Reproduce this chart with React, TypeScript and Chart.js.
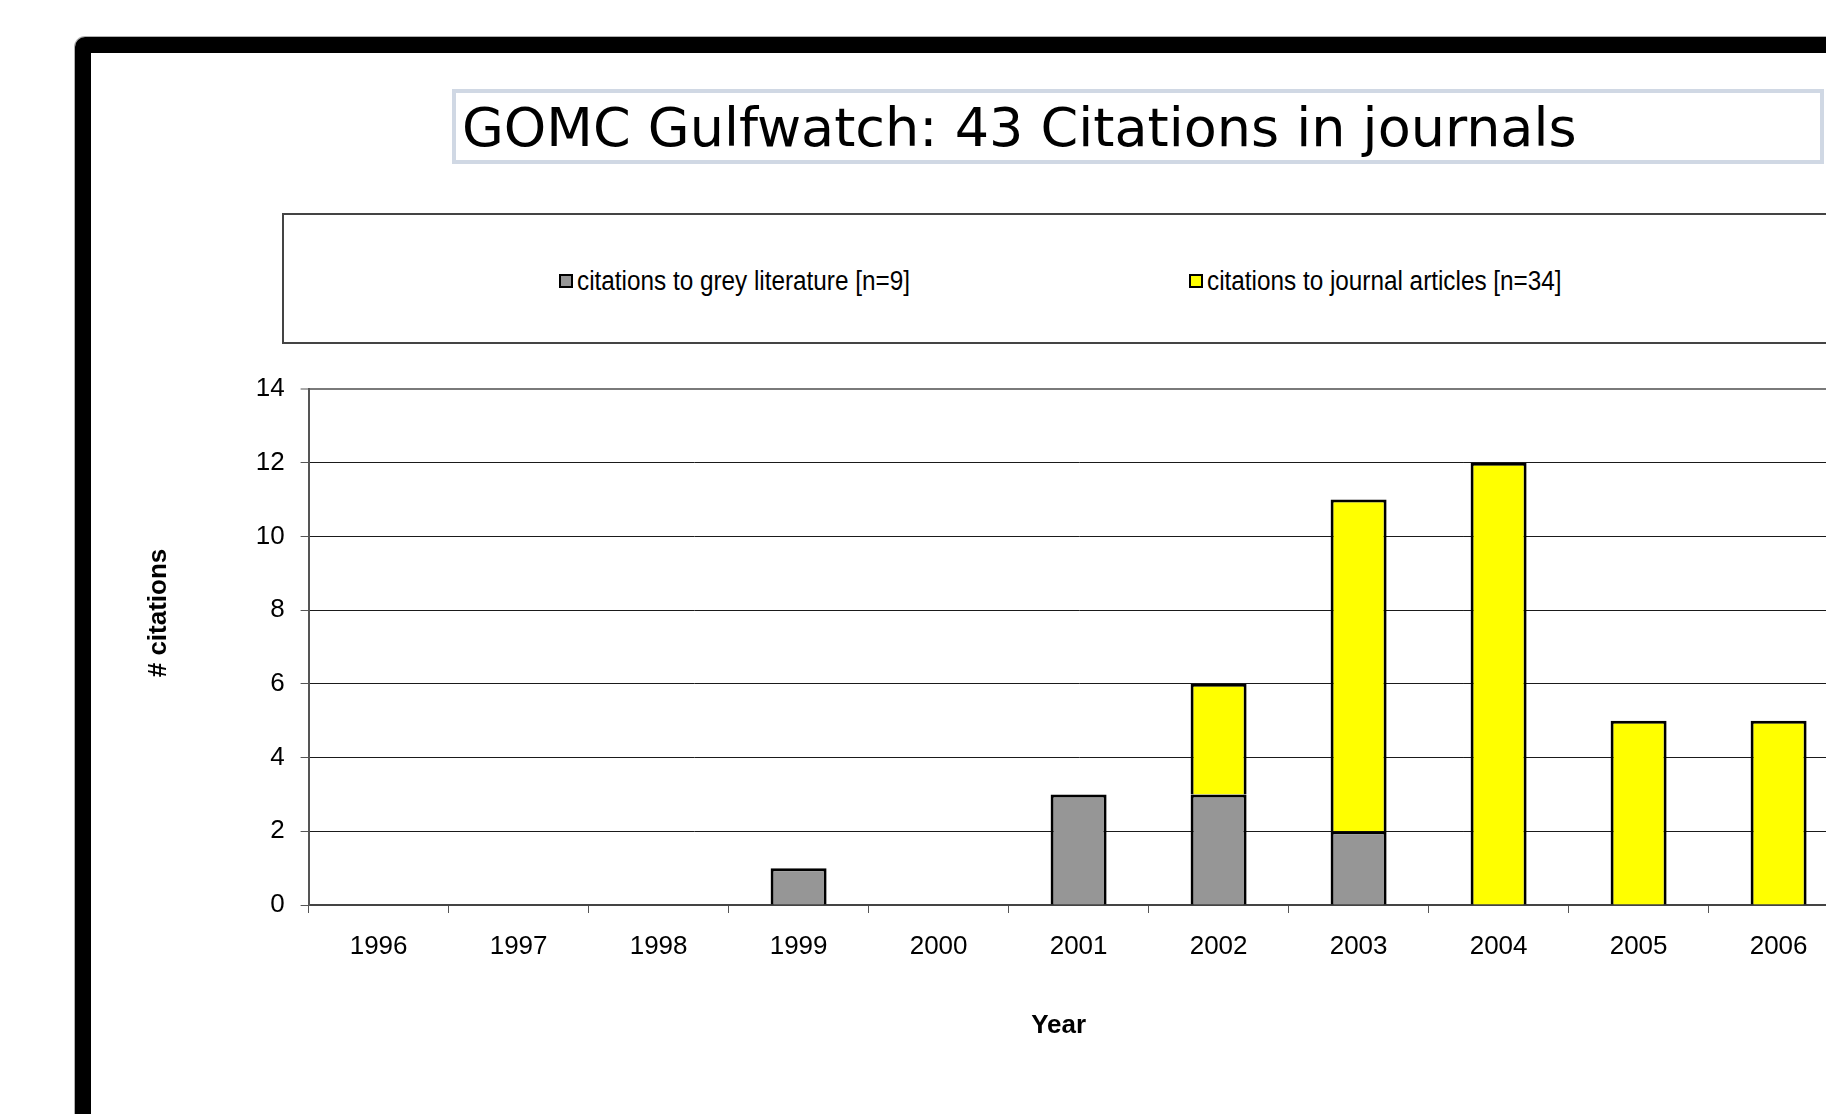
import React, { useEffect, useRef } from "react";
import { Chart, registerables } from "chart.js";

Chart.register(...registerables);

// ---- data ----
const categories = ["1996", "1997", "1998", "1999", "2000", "2001", "2002", "2003", "2004", "2005", "2006"];
const greyLiterature = [0, 0, 0, 1, 0, 3, 3, 2, 0, 0, 0];
const journalArticles = [0, 0, 0, 0, 0, 0, 3, 9, 12, 5, 5];
const seriesLabels = ["citations to grey literature [n=9]", "citations to journal articles [n=34]"];
const seriesColors = ["#969696", "#ffff00"];
const yTicks = [0, 2, 4, 6, 8, 10, 12, 14];
const chartTitle = "GOMC Gulfwatch: 43 Citations in journals";
const xAxisTitle = "Year";
const yAxisTitle = "# citations";

const SANS = "'Liberation Sans', Arial, Helvetica, sans-serif";

const axisTitlePlugin = {
  id: "axisTitlesCustom",
  afterDraw(chart: any) {
    const { ctx, chartArea } = chart;
    ctx.save();
    ctx.fillStyle = "#000";
    ctx.textAlign = "center";
    ctx.textBaseline = "alphabetic";
    ctx.font = `bold 26px ${SANS}`;
    ctx.fillText(xAxisTitle, chartArea.left + 750, chartArea.bottom + 128);
    ctx.translate(chartArea.left - 143, chartArea.top + 224);
    ctx.rotate(-Math.PI / 2);
    ctx.font = `bold 26px ${SANS}`;
    ctx.fillText(yAxisTitle, 0, 0);
    ctx.restore();
  },
};

export default function App() {
  const canvasRef = useRef<HTMLCanvasElement | null>(null);

  useEffect(() => {
    const canvas = canvasRef.current;
    if (!canvas) return;
    const yMax = yTicks[yTicks.length - 1];
    const chart = new Chart(canvas, {
      type: "bar",
      data: {
        labels: categories,
        datasets: [
          {
            label: seriesLabels[0],
            data: greyLiterature,
            backgroundColor: seriesColors[0],
            borderColor: "#000",
            borderWidth: 3,
          },
          {
            label: seriesLabels[1],
            data: journalArticles,
            backgroundColor: seriesColors[1],
            borderColor: "#000",
            borderWidth: 3,
          },
        ],
      },
      options: {
        responsive: false,
        animation: false,
        events: [],
        datasets: { bar: { barPercentage: 0.4, categoryPercentage: 1 } },
        layout: { padding: { left: 248.6, right: 51.4, top: 389, bottom: 149 } },
        plugins: {
          legend: { display: false },
          title: { display: false },
          tooltip: { enabled: false },
        },
        scales: {
          x: {
            stacked: true,
            afterFit: (scale: any) => {
              scale.height = 60;
            },
            grid: {
              display: true,
              drawOnChartArea: false,
              drawTicks: true,
              tickLength: 8,
              tickColor: "#555",
              offset: true,
            },
            border: { display: true, color: "#444", width: 2 },
            ticks: { color: "#000", font: { family: SANS, size: 26 }, padding: 18, maxRotation: 0, autoSkip: false },
          },
          y: {
            stacked: true,
            min: 0,
            max: yMax,
            afterFit: (scale: any) => {
              scale.width = 60;
            },
            afterBuildTicks: (scale: any) => {
              scale.ticks = yTicks.map((v) => ({ value: v }));
            },
            grid: {
              color: (c: any) => (c.tick && c.tick.value === yMax ? "#7a7a7a" : "#1a1a1a"),
              lineWidth: (c: any) => (c.tick && c.tick.value === yMax ? 2 : 1),
              tickLength: 8,
              tickColor: "#555",
              tickWidth: 1,
            },
            border: { display: true, color: "#555", width: 2 },
            ticks: { color: "#000", font: { family: SANS, size: 26 }, padding: 16 },
          },
        },
      },
      plugins: [axisTitlePlugin],
    });
    return () => chart.destroy();
  }, []);

  const legendX = [559, 1189];

  return (
    <div style={{ position: "fixed", left: 0, top: 0, width: 1826, height: 1114, overflow: "hidden", background: "#fff" }}>
      {/* outer black frame */}
      <div
        style={{
          position: "absolute",
          left: 75,
          top: 37,
          width: 1900,
          height: 1200,
          border: "16px solid #000",
          borderTopLeftRadius: 10,
          boxSizing: "border-box",
          boxShadow: "0 0 0 1px #b0b0b0",
        }}
      />
      {/* title box */}
      <div
        style={{
          position: "absolute",
          left: 452,
          top: 89,
          width: 1372,
          height: 75,
          border: "4px solid #d0d8e4",
          boxSizing: "border-box",
        }}
      />
      <div
        style={{
          position: "absolute",
          left: 462,
          top: 101,
          fontFamily: "'DejaVu Sans', Verdana, sans-serif",
          fontSize: 54,
          lineHeight: "54px",
          color: "#000",
          whiteSpace: "nowrap",
        }}
      >
        {chartTitle}
      </div>
      {/* legend box */}
      <div
        style={{
          position: "absolute",
          left: 282,
          top: 213,
          width: 1560,
          height: 131,
          border: "2px solid #444",
          boxSizing: "border-box",
        }}
      />
      {seriesLabels.map((label, i) => (
        <React.Fragment key={label}>
          <div
            style={{
              position: "absolute",
              left: legendX[i],
              top: 274,
              width: 14,
              height: 14,
              boxSizing: "border-box",
              border: "2px solid #000",
              background: seriesColors[i],
            }}
          />
          <div
            style={{
              position: "absolute",
              left: legendX[i] + 18,
              top: 266,
              fontFamily: SANS,
              fontSize: 27,
              lineHeight: "30px",
              color: "#000",
              whiteSpace: "nowrap",
              transform: "scaleX(0.9)",
              transformOrigin: "0 0",
            }}
          >
            {label}
          </div>
        </React.Fragment>
      ))}
      <canvas
        ref={canvasRef}
        width={1900}
        height={1114}
        style={{ position: "absolute", left: 0, top: 0, width: 1900, height: 1114 }}
      />
    </div>
  );
}
